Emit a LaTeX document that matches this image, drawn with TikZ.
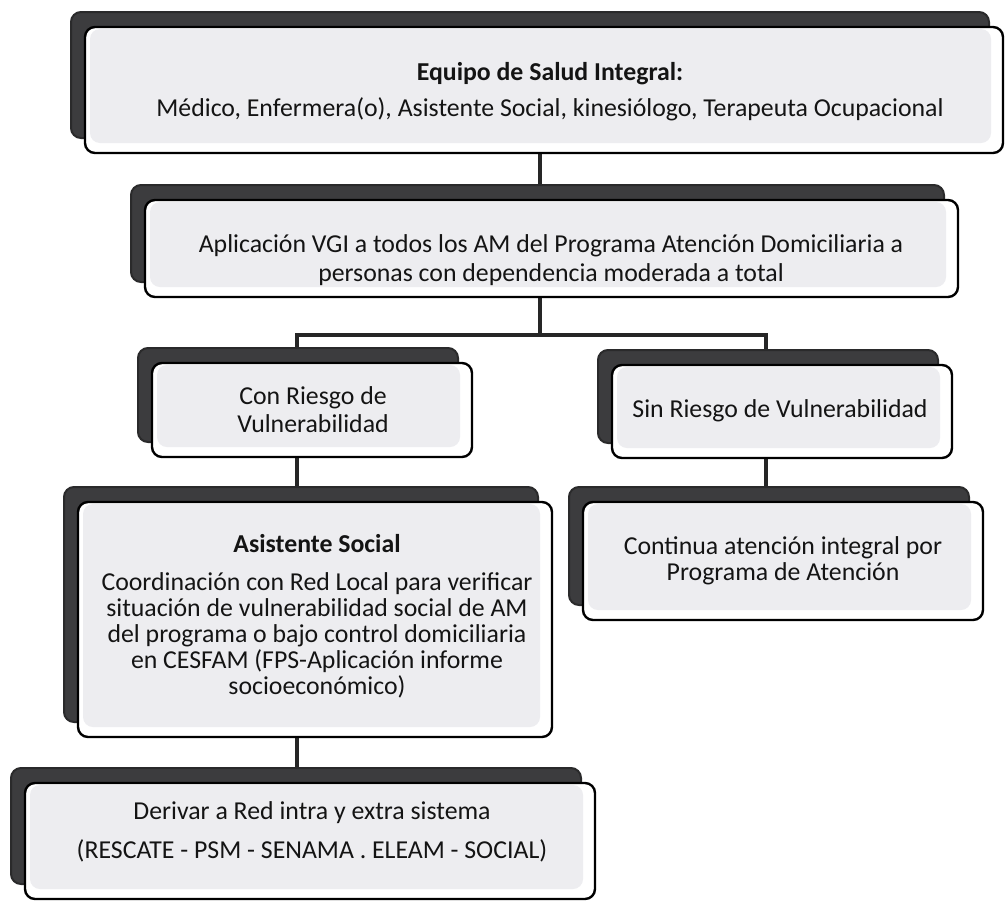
\documentclass[tikz,border=0pt]{standalone}
\usepackage{fontspec}
\setmainfont{Carlito}
\usetikzlibrary{shadows,backgrounds}

\definecolor{shadowgray}{HTML}{3C3C3E}
\definecolor{cardinner}{HTML}{EDEDF0}
\definecolor{inkgray}{HTML}{141414}

\tikzset{
  card/.style={draw=black, line width=2.4pt, rounded corners=10pt, fill=white, inner sep=0pt,
    copy shadow={shadow xshift=-14pt, shadow yshift=15pt, fill=shadowgray,
                 draw=shadowgray!70!black, line width=2pt},
    path picture={\fill[cardinner]
      ([xshift=5pt,yshift=10pt]path picture bounding box.south west) rectangle
      ([xshift=-12pt,yshift=-2pt]path picture bounding box.north east);}},
  cardtext/.style={align=center, text=inkgray, inner sep=0pt,
    font=\fontsize{25.8}{26}\selectfont},
  link/.style={draw=black!85, line width=3.2pt},
}

\begin{document}
\begin{tikzpicture}[x=1pt, y=-1pt]
  \useasboundingbox (0,0) rectangle (1006,900);

  % connector columns and the branching point
  \coordinate (xM) at (540,0);
  \coordinate (xL) at (297,0);
  \coordinate (xR) at (766,0);
  \coordinate (j)  at (540,335);

  % boxes
  \node[card, minimum width=918pt, minimum height=126pt] (b1) at (544,90) {};
  \node[card, minimum width=813pt, minimum height=97pt]  (b2) at (551.5,248.5) {};
  \node[card, minimum width=320pt, minimum height=94pt]  (b3) at (312,410) {};
  \node[card, minimum width=340pt, minimum height=93pt]  (b4) at (782,411.5) {};
  \node[card, minimum width=400pt, minimum height=118pt] (b5) at (783,561) {};
  \node[card, minimum width=474pt, minimum height=235pt] (b6) at (315,619.5) {};
  \node[card, minimum width=570pt, minimum height=116pt] (b7) at (310,841) {};

  % texts
  \node[cardtext] (t1) at (550,92) {\textbf{Equipo de Salud Integral:}\\[10pt]
    Médico, Enfermera(o), Asistente Social, kinesiólogo, Terapeuta Ocupacional};
  \node[cardtext] (t2) at (551,260) {Aplicación VGI a todos los AM del Programa Atención Domiciliaria a\\[3pt]
    personas con dependencia moderada a total};
  \node[cardtext] (t3) at (313,410) {Con Riesgo de\\[2pt] Vulnerabilidad};
  \node[cardtext] (t4) at (780,411) {Sin Riesgo de Vulnerabilidad};
  \node[cardtext] (t5) at (783,561) {Continua atención integral por\\ Programa de Atención};
  \node[cardtext] (t6) at (317,616) {\textbf{Asistente Social}\\[12pt]
    Coordinación con Red Local para verificar\\
    situación de vulnerabilidad social de AM\\
    del programa o bajo control domiciliaria\\
    en CESFAM (FPS-Aplicación informe\\
    socioeconómico)};
  \node[cardtext] (t7) at (312,832) {Derivar a Red intra y extra sistema\\[13pt]
    (RESCATE - PSM - SENAMA . ELEAM - SOCIAL)};

  % page fill and connectors, kept behind the boxes
  \begin{scope}[on background layer]
    \fill[white] (0,0) rectangle (1006,900);
    \draw[link] (xM |- b1.south) -- (xM |- b2.north);
    \draw[link] (xM |- b2.south) -- (j);
    \draw[link] (xL |- b3.north) -- (xL |- j) -- (xR |- j) -- (xR |- b4.north);
    \draw[link] (xL |- b3.south) -- (xL |- b6.north);
    \draw[link] (xL |- b6.south) -- (xL |- b7.north);
    \draw[link] (xR |- b4.south) -- (xR |- b5.north);
  \end{scope}
\end{tikzpicture}
\end{document}
